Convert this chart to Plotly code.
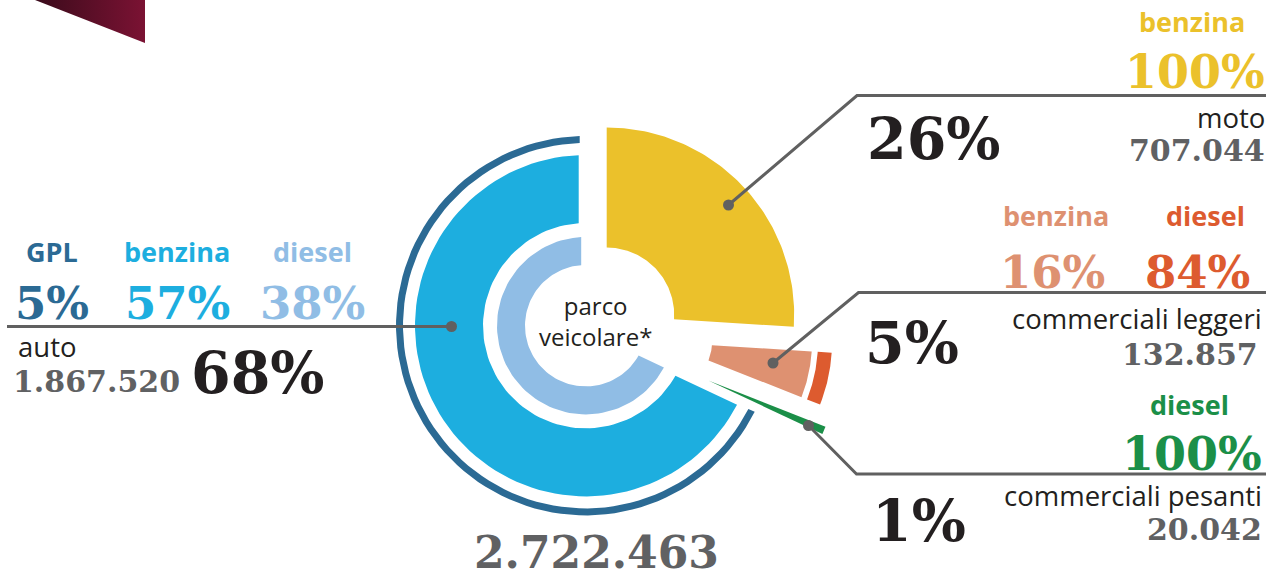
import numpy as np
import plotly.graph_objects as go

segments = ["moto", "commerciali leggeri", "commerciali pesanti", "auto"]
shares = [26, 5, 1, 68]                 # % of the vehicle fleet
counts = ["707.044", "132.857", "20.042", "1.867.520"]
total = "2.722.463"

auto_fuel = ["GPL", "benzina", "diesel"]
auto_fuel_pct = [5, 57, 38]
leggeri_fuel = ["benzina", "diesel"]
leggeri_fuel_pct = [16, 84]
moto_fuel, moto_fuel_pct = "benzina", 100
pesanti_fuel, pesanti_fuel_pct = "diesel", 100

# colours
YELLOW = "#EBC12B"
SALMON = "#DE9171"
ORANGE = "#DD5B2F"
GREEN = "#1B8F48"
BLUE = "#1DAEDF"
LIGHTBLUE = "#90BDE5"
DARKBLUE = "#2B6A94"
GREY = "#606163"
BLACK = "#231F20"
LEADER = "#606060"

SERIF = "DejaVu Serif"
SANS = "Open Sans"

# cumulative angles (degrees, clockwise from 12 o'clock)
edges = np.concatenate([[0], np.cumsum(shares)]) * 3.6
ang = {s: (edges[i], edges[i + 1]) for i, s in enumerate(segments)}


def wedge(cx, cy, r0, r1, a0, a1, gap=0.0, n=90):
    """annular sector; straight sides pulled in parallel by `gap` px"""
    def arc(r, rev=False):
        d = np.degrees(np.arcsin(min(gap / r, 1.0)))
        s, e = a0 + d, a1 - d
        if s > e:
            s = e = (a0 + a1) / 2
        t = np.radians(np.linspace(s, e, n))
        if rev:
            t = t[::-1]
        return cx + r * np.sin(t), cy - r * np.cos(t)
    xo, yo = arc(r1)
    xi, yi = arc(r0, rev=True)
    return np.r_[xo, xi, xo[0]], np.r_[yo, yi, yo[0]]


fig = go.Figure()


def add_piece(x, y, color):
    fig.add_trace(go.Scatter(x=x, y=y, mode="lines", fill="toself",
                             fillcolor=color, line=dict(width=0),
                             hoverinfo="skip"))


# auto: main ring + GPL outer arc + diesel inner ring
C_AUTO = (585.7, 325.7)
add_piece(*wedge(*C_AUTO, 182.7, 189.7, *ang["auto"], gap=6), DARKBLUE)
add_piece(*wedge(*C_AUTO, 102.7, 170.7, *ang["auto"], gap=7), BLUE)
add_piece(*wedge(*C_AUTO, 60.7, 88.7, *ang["auto"], gap=4.5), LIGHTBLUE)

# moto (exploded)
add_piece(*wedge(606.7, 315, 67.5, 187.5, *ang["moto"]), YELLOW)

# commerciali leggeri (exploded) + diesel arc
C_LEG = (662, 342)
add_piece(*wedge(*C_LEG, 50, 150, *ang["commerciali leggeri"]), SALMON)
add_piece(*wedge(*C_LEG, 156, 170, *ang["commerciali leggeri"]), ORANGE)

# commerciali pesanti (thin sliver)
add_piece(*wedge(649.6, 355, 64, 190, *ang["commerciali pesanti"], gap=2), GREEN)

# leader lines with dots
leaders = [
    ([728.5, 857, 1266], [205, 95.5, 95.5]),
    ([773, 858.5, 1266], [363, 292.5, 292.5]),
    ([808.5, 856.5, 1266], [425.5, 474, 474]),
    ([451.5, 7], [326.5, 326.5]),
]
for lx, ly in leaders:
    fig.add_trace(go.Scatter(x=lx, y=ly, mode="lines",
                             line=dict(color=LEADER, width=3), hoverinfo="skip"))
    fig.add_trace(go.Scatter(x=[lx[0]], y=[ly[0]], mode="markers",
                             marker=dict(color=LEADER, size=11), hoverinfo="skip"))

# corner ribbon
fig.add_trace(go.Scatter(x=[35, 145, 145, 35], y=[-2, -2, 43, 0], mode="lines",
                         fill="toself", line=dict(width=0),
                         fillgradient=dict(type="horizontal",
                                           colorscale=[[0, "#3a0b1b"], [1, "#7b1233"]]),
                         hoverinfo="skip"))


def txt(x, y, s, size, color, family=SANS, xa="center", bold=False):
    fig.add_annotation(x=x, y=y, text=s, showarrow=False, xanchor=xa,
                       yanchor="middle", borderpad=0,
                       font=dict(family=family, size=size, color=color,
                                 weight="bold" if bold else "normal"))


def pct(v):
    return f"{v}%"


# right column: moto
txt(1246, 21.5, moto_fuel, 27, YELLOW, xa="right", bold=True)
txt(1266, 71.5, pct(moto_fuel_pct), 46, YELLOW, SERIF, xa="right", bold=True)
txt(866, 138, pct(shares[0]), 57, BLACK, SERIF, xa="left", bold=True)
txt(1266, 117, segments[0], 27.5, BLACK, xa="right")
txt(1266, 150, counts[0], 30, GREY, SERIF, xa="right", bold=True)

# right column: commerciali leggeri
leg_cols = [SALMON, ORANGE]
for xc, f, p, c in zip([1056, 1205], leggeri_fuel, leggeri_fuel_pct, leg_cols):
    txt(xc, 215.5, f, 27, c, bold=True)
    txt(xc - 4 if xc < 1100 else xc - 8, 272, pct(p), 45, c, SERIF, bold=True)
txt(864, 342, pct(shares[1]), 57, BLACK, SERIF, xa="left", bold=True)
txt(1263, 318, segments[1], 27.5, BLACK, xa="right")
txt(1259, 354.5, counts[1], 30, GREY, SERIF, xa="right", bold=True)

# right column: commerciali pesanti
txt(1189, 404.5, pesanti_fuel, 27, GREEN, bold=True)
txt(1263, 453.5, pct(pesanti_fuel_pct), 46, GREEN, SERIF, xa="right", bold=True)
txt(871, 520, pct(shares[2]), 57, BLACK, SERIF, xa="left", bold=True)
txt(1263, 495, segments[2], 27.5, BLACK, xa="right")
txt(1263, 529.5, counts[2], 30, GREY, SERIF, xa="right", bold=True)

# left block: auto
auto_cols = [DARKBLUE, BLUE, LIGHTBLUE]
for xc, f, p, c in zip([52, 177, 312], auto_fuel, auto_fuel_pct, auto_cols):
    txt(xc, 251, f, 27, c, bold=True)
    txt(xc, 303.5, pct(p), 45, c, SERIF, bold=True)
txt(17, 346, segments[3], 27.5, BLACK, xa="left")
txt(12, 381.5, counts[3], 30, GREY, SERIF, xa="left", bold=True)
txt(190, 372, pct(shares[3]), 57, BLACK, SERIF, xa="left", bold=True)

# centre + total
txt(595, 321, "parco<br>veicolare*", 24, BLACK)
txt(596, 552, total, 44, GREY, SERIF, bold=True)

fig.update_layout(
    width=1274, height=580,
    margin=dict(l=0, r=0, t=0, b=0),
    paper_bgcolor="white", plot_bgcolor="white",
    showlegend=False, hovermode=False,
    xaxis=dict(range=[0, 1274], visible=False, fixedrange=True),
    yaxis=dict(range=[580, 0], visible=False, fixedrange=True),
)

fig.write_html("out.html", config={"displayModeBar": False},
               post_script="document.body.style.margin='0';"
                           "document.body.style.overflow='hidden';")
